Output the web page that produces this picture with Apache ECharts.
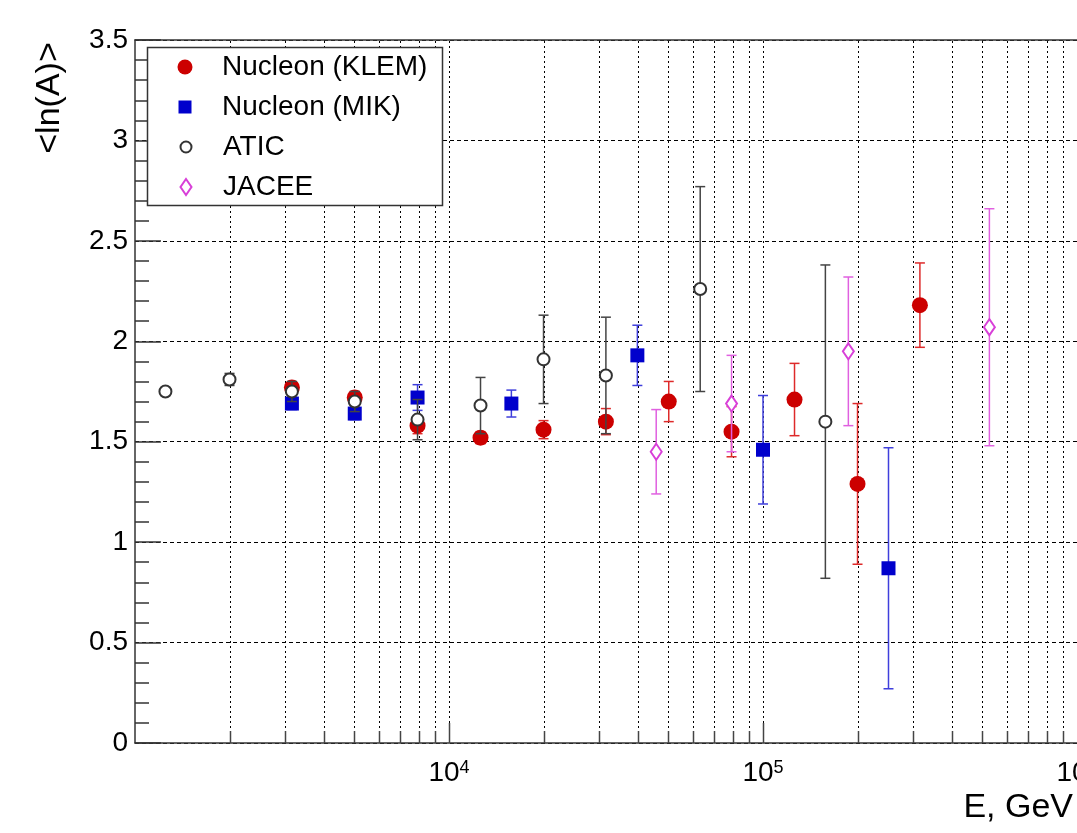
<!DOCTYPE html>
<html>
<head>
<meta charset="utf-8">
<script src="https://cdn.jsdelivr.net/npm/echarts@6/dist/echarts.min.js"></script>
<style>
  html, body { margin: 0; padding: 0; background: #fff; }
  #chart { width: 1077px; height: 833px; }
</style>
</head>
<body>
<div id="chart"></div>
<script>
// Energy per particle (GeV), mean logarithmic mass <ln(A)> and its uncertainty
const klemE   = [3160, 5010, 7940, 12600, 20000, 31600, 50100, 79400, 126000, 200000, 316000];
const klemLnA = [1.77, 1.72, 1.58, 1.52, 1.56, 1.60, 1.70, 1.55, 1.71, 1.29, 2.18];
const klemErr = [0.02, 0.03, 0.04, 0.03, 0.045, 0.065, 0.10, 0.125, 0.18, 0.40, 0.21];

const mikE   = [3160, 5010, 7940, 15800, 39800, 100000, 251000];
const mikLnA = [1.69, 1.64, 1.72, 1.69, 1.93, 1.46, 0.87];
const mikErr = [0.03, 0.03, 0.064, 0.067, 0.15, 0.27, 0.60];

const aticE   = [1250, 2000, 3160, 5010, 7940, 12600, 20000, 31600, 63100, 158000];
const aticLnA = [1.75, 1.81, 1.75, 1.70, 1.61, 1.68, 1.91, 1.83, 2.26, 1.60];
const aticErr = [0.01, 0.03, 0.05, 0.05, 0.10, 0.14, 0.22, 0.29, 0.51, 0.78];

const jaceeE   = [45700, 79400, 187000, 526000];
const jaceeLnA = [1.45, 1.69, 1.95, 2.07];
const jaceeErr = [0.21, 0.24, 0.37, 0.59];

const seriesNames = ['Nucleon (KLEM)', 'Nucleon (MIK)', 'ATIC', 'JACEE'];

// Axis ranges
const X_MIN = 1000, X_MAX = 1e6;
const Y_MIN = 0, Y_MAX = 3.5, Y_STEP = 0.5;

// Log-axis grid positions: every 1..9 x 10^n inside the range
const xDecadeStarts = [1e3, 1e4, 1e5];
const xGridValues = [];
xDecadeStarts.forEach(function (d) {
  for (let m = 1; m <= 9; m++) {
    const v = m * d;
    if (v > X_MIN && v < X_MAX) xGridValues.push(v);
  }
});

const FONT = '"Liberation Sans", Arial, Helvetica, sans-serif';

function isDecade(v) {
  const l = Math.log10(v);
  return Math.abs(l - Math.round(l)) < 1e-6;
}

function crisp(x) { return Math.round(x) + 0.5; }

// Dotted vertical grid line plus bottom tick for each log position
function renderXGrid(params, api) {
  const e = api.value(0);
  const bot = api.coord([e, Y_MIN]);
  const top = api.coord([e, Y_MAX]);
  const x = crisp(bot[0]);
  const tickLen = isDecade(e) ? 20 : 12;
  return {
    type: 'group',
    children: [
      { type: 'line', shape: { x1: x, y1: bot[1], x2: x, y2: top[1] },
        style: { stroke: '#000', lineWidth: 1, lineDash: [2, 3] } },
      { type: 'line', shape: { x1: x, y1: bot[1], x2: x, y2: bot[1] - tickLen },
        style: { stroke: '#444', lineWidth: 1.5 } }
    ]
  };
}

// Vertical error bar with end caps
function errorBarRenderer(color) {
  return function (params, api) {
    const e = api.value(0), v = api.value(1), d = api.value(2);
    const hi = api.coord([e, v + d]);
    const lo = api.coord([e, v - d]);
    const x = hi[0];
    const cap = 5;
    const style = { stroke: color, lineWidth: 1.5 };
    return {
      type: 'group',
      children: [
        { type: 'line', shape: { x1: x, y1: hi[1], x2: x, y2: lo[1] }, style: style },
        { type: 'line', shape: { x1: x - cap, y1: hi[1], x2: x + cap, y2: hi[1] }, style: style },
        { type: 'line', shape: { x1: x - cap, y1: lo[1], x2: x + cap, y2: lo[1] }, style: style }
      ]
    };
  };
}

function points(E, V) { return E.map(function (e, i) { return [e, V[i]]; }); }
function bars(E, V, D) { return E.map(function (e, i) { return [e, V[i], D[i]]; }); }

const sets = [
  { name: seriesNames[0], E: klemE, V: klemLnA, D: klemErr,
    symbol: 'circle', size: 16, color: '#cc0000', bar: '#de2a2a', border: 0 },
  { name: seriesNames[1], E: mikE, V: mikLnA, D: mikErr,
    symbol: 'rect', size: 14, color: '#0000cc', bar: '#3f3fdc', border: 0 },
  { name: seriesNames[2], E: aticE, V: aticLnA, D: aticErr,
    symbol: 'emptyCircle', size: 12, color: '#333333', bar: '#444444', border: 2 },
  { name: seriesNames[3], E: jaceeE, V: jaceeLnA, D: jaceeErr,
    symbol: 'emptyDiamond', size: [11, 16], color: '#d83fd8', bar: '#e060e0', border: 2 }
];

const series = [{
  type: 'custom',
  silent: true,
  z: 1,
  renderItem: renderXGrid,
  encode: { x: 0, y: 1 },
  data: xGridValues.map(function (v) { return [v, 0]; })
}];

sets.forEach(function (s, k) {
  series.push({
    type: 'custom',
    name: s.name + ' err',
    silent: true,
    z: 3 + 2 * k,
    renderItem: errorBarRenderer(s.bar),
    encode: { x: 0, y: 1 },
    data: bars(s.E, s.V, s.D)
  });
  series.push({
    type: 'scatter',
    name: s.name,
    z: 4 + 2 * k,
    symbol: s.symbol,
    symbolSize: s.size,
    itemStyle: { color: s.color, borderColor: s.color, borderWidth: s.border, opacity: 1 },
    emphasis: { disabled: true },
    data: points(s.E, s.V)
  });
});

// One legend row per dataset so each icon keeps its own size
const legendRows = [
  { name: seriesNames[0], icon: 'circle', w: 15, h: 15, cy: 67 },
  { name: seriesNames[1], icon: 'rect', w: 13, h: 13, cy: 107 },
  { name: seriesNames[2], icon: 'emptyCircle', w: 11, h: 11, cy: 147 },
  { name: seriesNames[3], icon: 'emptyDiamond', w: 11, h: 16, cy: 187 }
];
const ICON_CX = 185, TEXT_X = 222, ROW_H = 30;

const legends = legendRows.map(function (r) {
  return {
    z: 20,
    left: ICON_CX - r.w / 2,
    top: r.cy - ROW_H / 2,
    padding: 0,
    orient: 'horizontal',
    itemWidth: r.w,
    itemHeight: r.h,
    selectedMode: false,
    data: [{ name: r.name, icon: r.icon }],
    textStyle: {
      fontFamily: FONT, fontSize: 28, color: '#000', lineHeight: ROW_H,
      padding: [0, 0, 0, TEXT_X - (ICON_CX + r.w / 2 + 5)]
    }
  };
});

const chart = echarts.init(document.getElementById('chart'), null, { renderer: 'canvas' });

chart.setOption({
  animation: false,
  backgroundColor: '#fff',
  grid: { left: 135, top: 40, right: 0, bottom: 90, containLabel: false, outerBoundsMode: 'none' },
  xAxis: [{
    type: 'log',
    logBase: 10,
    min: X_MIN,
    max: X_MAX,
    axisLine: { show: true, onZero: false, lineStyle: { color: '#333', width: 1.5 } },
    axisTick: { show: false },
    splitLine: { show: false },
    minorTick: { show: false },
    axisLabel: {
      show: true,
      showMinLabel: false,
      showMaxLabel: true,
      hideOverlap: false,
      margin: 16,
      formatter: function (v) {
        if (v <= X_MIN) return '';
        return '{b|10}{s|' + Math.round(Math.log10(v)) + '}';
      },
      rich: {
        b: { fontFamily: FONT, fontSize: 28, lineHeight: 28, color: '#000' },
        s: { fontFamily: FONT, fontSize: 18, lineHeight: 18, color: '#000', verticalAlign: 'top' }
      }
    }
  }, {
    type: 'log',
    logBase: 10,
    position: 'top',
    min: X_MIN,
    max: X_MAX,
    axisLine: { show: true, onZero: false, lineStyle: { color: '#333', width: 1.5 } },
    axisTick: { show: false },
    axisLabel: { show: false },
    splitLine: { show: false }
  }],
  yAxis: {
    type: 'value',
    min: Y_MIN,
    max: Y_MAX,
    interval: Y_STEP,
    axisLine: { show: true, lineStyle: { color: '#333', width: 1.5 } },
    axisTick: { show: true, inside: true, length: 26, lineStyle: { color: '#333', width: 1.5 } },
    minorTick: { show: true, splitNumber: 5, length: 14, lineStyle: { color: '#333', width: 1.5 } },
    splitLine: { show: true, lineStyle: { color: '#000', width: 1, type: [4, 3] } },
    axisLabel: { fontFamily: FONT, fontSize: 28, color: '#000', margin: 7 }
  },
  legend: legends,
  series: series,
  graphic: {
    elements: [
      { type: 'rect', z: 10, silent: true,
        shape: { x: 147.5, y: 47.5, width: 295, height: 158 },
        style: { fill: '#fff', stroke: '#333', lineWidth: 1.5 } },
      { type: 'text', z: 30, silent: true, x: 50, y: 98, rotation: Math.PI / 2,
        style: { text: '<ln(A)>', fontFamily: FONT, fontSize: 34, fill: '#000',
                 align: 'center', verticalAlign: 'middle' } },
      { type: 'text', z: 30, silent: true, x: 1073, y: 808,
        style: { text: 'E, GeV', fontFamily: FONT, fontSize: 34, fill: '#000',
                 align: 'right', verticalAlign: 'middle' } }
    ]
  }
});
</script>
</body>
</html>
